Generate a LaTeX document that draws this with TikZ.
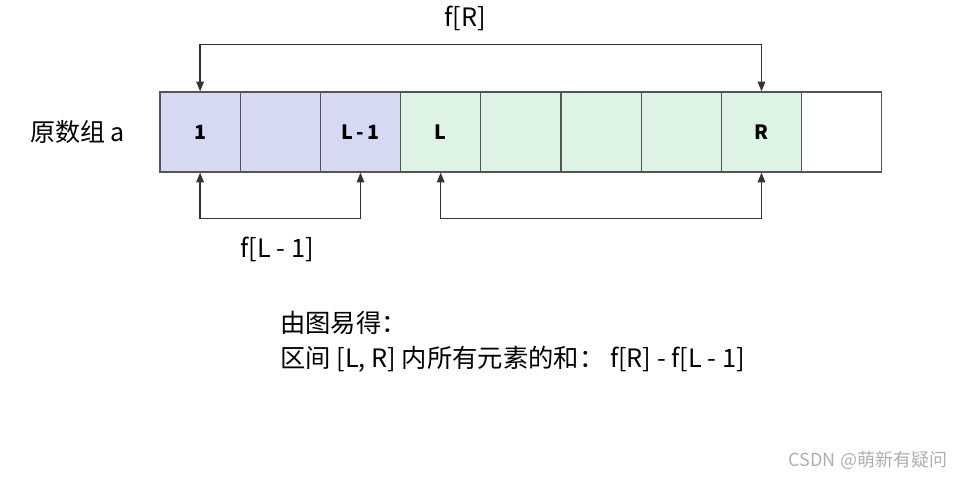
\documentclass[tikz,border=0pt]{standalone}
\usepackage{fontspec}
\setmainfont{Noto Sans CJK SC}
\usepackage{xcolor}
\usepackage{tikz}
\usetikzlibrary{arrows.meta, positioning, calc}
\definecolor{cellblue}{RGB}{213, 217, 242}
\definecolor{cellgreen}{RGB}{221, 243, 227}
\definecolor{cellline}{RGB}{85, 85, 85}
\definecolor{arrowgray}{RGB}{51, 51, 51}
\definecolor{markgray}{RGB}{175, 175, 175}

\begin{document}
\begin{tikzpicture}[x=0.025cm, y=-0.025cm,
        cell/.style={draw=cellline, line width=0.9pt, minimum width=2.005cm, minimum height=2cm, inner sep=0pt, font=\fontsize{14}{16}\selectfont\bfseries},
        link/.style={arrowgray, line width=0.9pt, {Triangle[length=7pt,width=5.5pt]}-{Triangle[length=7pt,width=5.5pt]}}]
        \useasboundingbox (0,0) rectangle (956,477);
        \foreach \i/\c/\t in {1/cellblue/1, 2/cellblue/, 3/cellblue/L\,-\,1, 4/cellgreen/L, 5/cellgreen/, 6/cellgreen/, 7/cellgreen/, 8/cellgreen/R, 9/white/} {
            \node[cell, fill=\c] (c\i) at ({160+80.2*(\i-0.5)},132) {\t};
        }
        \node[font=\fontsize{17.8}{20}\selectfont, anchor=west, inner sep=0pt] (name) at (30,132) {原数组 a};
        \draw[link] (c1.north) -- ++(0,-47) -| (c8.north);
        \draw[link] (c1.south) -- ++(0,46) -| (c3.south);
        \draw[link] (c4.south) -- ++(0,46) -| (c8.south);
        \node[font=\fontsize{18}{20}\selectfont] (fr) at (465,18) {f[R]};
        \node[font=\fontsize{18}{20}\selectfont] (fl) at (277,249) {f[L - 1]};
        \node[font=\fontsize{18}{25}\selectfont, anchor=west, align=left, inner sep=0pt] (res) at (280,342) {由图易得：\\区间 [L, R] 内所有元素的和： f[R] - f[L - 1]};
        \node[font=\fontsize{12.8}{15}\selectfont, text=markgray, anchor=east] (mark) at (952,460) {CSDN @萌新有疑问};
    \end{tikzpicture}
\end{document}
